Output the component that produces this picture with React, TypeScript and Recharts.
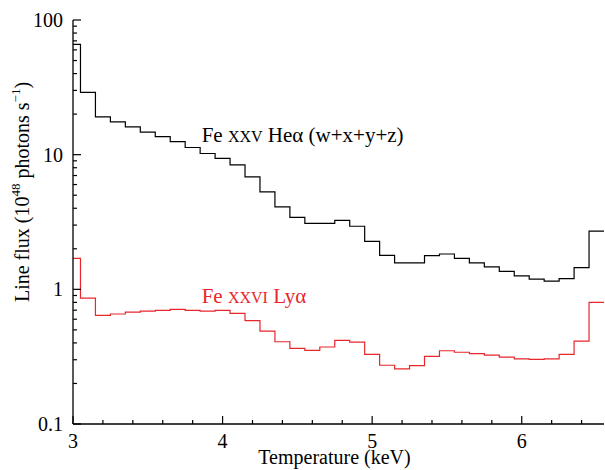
import React from 'react'
import { LineChart, Line, XAxis, YAxis, ReferenceDot } from 'recharts'

// bin centres (keV), bin width 0.1
const binCenters = [
  3.0, 3.1, 3.2, 3.3, 3.4, 3.5, 3.6, 3.7, 3.8, 3.9,
  4.0, 4.1, 4.2, 4.3, 4.4, 4.5, 4.6, 4.7, 4.8, 4.9,
  5.0, 5.1, 5.2, 5.3, 5.4, 5.5, 5.6, 5.7, 5.8, 5.9,
  6.0, 6.1, 6.2, 6.3, 6.4, 6.5,
]

// Fe XXV He-alpha (w+x+y+z), 1e48 photons/s
const heAlpha = [
  66, 29, 19.1, 17.5, 16.1, 14.7, 13.6, 12.5, 11.3, 10.2,
  9.4, 8.4, 6.85, 5.3, 4.1, 3.42, 3.09, 3.09, 3.25, 2.94,
  2.27, 1.79, 1.57, 1.57, 1.78, 1.83, 1.7, 1.57, 1.47, 1.36,
  1.26, 1.19, 1.15, 1.2, 1.45, 2.71,
]

// Fe XXVI Ly-alpha
const lyAlpha = [
  1.7, 0.86, 0.64, 0.656, 0.678, 0.69, 0.698, 0.71, 0.698, 0.69,
  0.698, 0.663, 0.585, 0.49, 0.408, 0.365, 0.352, 0.373, 0.418, 0.406,
  0.329, 0.273, 0.257, 0.271, 0.318, 0.35, 0.341, 0.333, 0.325, 0.314,
  0.305, 0.302, 0.305, 0.329, 0.413, 0.8,
]

const xMin = 3
const xMax = 6.55
const xMajor = [3, 4, 5, 6]
const xMinor = [3.2, 3.4, 3.6, 3.8, 4.2, 4.4, 4.6, 4.8, 5.2, 5.4, 5.6, 5.8, 6.2, 6.4]
const yMajor = [0.1, 1, 10, 100]
const yMinor = [
  0.2, 0.3, 0.4, 0.5, 0.6, 0.7, 0.8, 0.9,
  2, 3, 4, 5, 6, 7, 8, 9,
  20, 30, 40, 50, 60, 70, 80, 90,
]

const FONT = '"Liberation Serif", "Times New Roman", serif'
const RED = '#e8262b'

// step edges: each bin starts at centre - 0.05 (clipped to the axis start)
const rows = binCenters.map((c, i) => ({
  t: i === 0 ? Math.max(xMin, c - 0.05) : +(c - 0.05).toFixed(2),
  he: heAlpha[i],
  ly: lyAlpha[i],
}))
rows.push({ t: xMax, he: heAlpha[heAlpha.length - 1], ly: lyAlpha[lyAlpha.length - 1] })

const xTicks = [...xMajor, ...xMinor].sort((a, b) => a - b)
const yTicks = [...yMajor, ...yMinor].sort((a, b) => a - b)

const MAJ = 8
const MIN = 4

const BottomTick = (props: any) => {
  const { x, y, payload } = props
  const major = xMajor.includes(payload.value)
  return (
    <g>
      <line x1={x} x2={x} y1={y} y2={y - (major ? MAJ : MIN)} stroke="#000" strokeWidth={1.2} />
      {major && (
        <text x={x} y={y + 24} textAnchor="middle" fontFamily={FONT} fontSize={20} fill="#000">
          {payload.value}
        </text>
      )}
    </g>
  )
}

const TopTick = (props: any) => {
  const { x, y, payload } = props
  const major = xMajor.includes(payload.value)
  return <line x1={x} x2={x} y1={y} y2={y + (major ? MAJ : MIN)} stroke="#000" strokeWidth={1.2} />
}

const LeftTick = (props: any) => {
  const { x, y, payload } = props
  const major = yMajor.includes(payload.value)
  return (
    <g>
      <line x1={x} x2={x + (major ? MAJ : MIN)} y1={y} y2={y} stroke="#000" strokeWidth={1.2} />
      {major && (
        <text x={x - 10} y={y + 7} textAnchor="end" fontFamily={FONT} fontSize={20} fill="#000">
          {payload.value}
        </text>
      )}
    </g>
  )
}

const RightTick = (props: any) => {
  const { x, y, payload } = props
  const major = yMajor.includes(payload.value)
  return <line x1={x} x2={x - (major ? MAJ : MIN)} y1={y} y2={y} stroke="#000" strokeWidth={1.2} />
}

const XLabel = (props: any) => {
  const vb = props.viewBox
  return (
    <text x={vb.x + vb.width / 2 - 4} y={vb.y + 40} textAnchor="middle" fontFamily={FONT} fontSize={20} fill="#000">
      Temperature (keV)
    </text>
  )
}

const YLabel = (props: any) => {
  const vb = props.viewBox
  const cx = vb.x + 22
  const cy = vb.y + vb.height / 2 - 30
  return (
    <text
      x={cx}
      y={cy}
      transform={`rotate(-90 ${cx} ${cy})`}
      textAnchor="middle"
      dominantBaseline="central"
      fontFamily={FONT}
      fontSize={20}
      fill="#000"
    >
      Line flux (10
      <tspan dy={-7} fontSize={13}>48</tspan>
      <tspan dy={7}> photons s</tspan>
      <tspan dy={-7} fontSize={13}>−1</tspan>
      <tspan dy={7}>)</tspan>
    </text>
  )
}

const HeLabel = (props: any) => {
  const { x, y } = props.viewBox
  return (
    <text x={x} y={y} fontFamily={FONT} fontSize={21} fill="#000">
      Fe <tspan fontSize={16}>XXV</tspan> Heα (w+x+y+z)
    </text>
  )
}

const LyLabel = (props: any) => {
  const { x, y } = props.viewBox
  return (
    <text x={x} y={y} fontFamily={FONT} fontSize={21} fill={RED}>
      Fe <tspan fontSize={16}>XXVI</tspan> Lyα
    </text>
  )
}

export default function App() {
  return (
    <div style={{ position: 'absolute', left: 0, top: 0, background: '#fff' }}>
      <LineChart width={605} height={470} data={rows} margin={{ top: 20, right: 1, bottom: 0, left: 0 }}>
        <XAxis
          dataKey="t"
          type="number"
          domain={[xMin, xMax]}
          allowDataOverflow
          ticks={xTicks}
          interval={0}
          tickSize={0}
          tickMargin={0}
          tick={<BottomTick />}
          height={46}
          axisLine={{ stroke: '#000', strokeWidth: 1.3 }}
          label={<XLabel />}
        />
        <XAxis
          xAxisId="top"
          orientation="top"
          dataKey="t"
          type="number"
          domain={[xMin, xMax]}
          allowDataOverflow
          ticks={xTicks}
          interval={0}
          tickSize={0}
          tickMargin={0}
          tick={<TopTick />}
          height={0}
          axisLine={{ stroke: '#000', strokeWidth: 1.3 }}
        />
        <YAxis
          type="number"
          scale="log"
          domain={[0.1, 100]}
          allowDataOverflow
          ticks={yTicks}
          interval={0}
          tickSize={0}
          tickMargin={0}
          tick={<LeftTick />}
          width={73}
          axisLine={{ stroke: '#000', strokeWidth: 1.3 }}
          label={<YLabel />}
        />
        <YAxis
          yAxisId="right"
          orientation="right"
          type="number"
          scale="log"
          domain={[0.1, 100]}
          allowDataOverflow
          ticks={yTicks}
          interval={0}
          tickSize={0}
          tickMargin={0}
          tick={<RightTick />}
          width={0}
          axisLine={{ stroke: '#000', strokeWidth: 1.3 }}
        />
        <Line
          type="stepAfter"
          dataKey="he"
          stroke="#000"
          strokeWidth={1.2}
          dot={false}
          isAnimationActive={false}
        />
        <Line
          type="stepAfter"
          dataKey="ly"
          stroke={RED}
          strokeWidth={1.2}
          dot={false}
          isAnimationActive={false}
        />
        <ReferenceDot x={3.86} y={12.4} r={0} fill="none" stroke="none" label={<HeLabel />} />
        <ReferenceDot x={3.86} y={0.79} r={0} fill="none" stroke="none" label={<LyLabel />} />
      </LineChart>
    </div>
  )
}
